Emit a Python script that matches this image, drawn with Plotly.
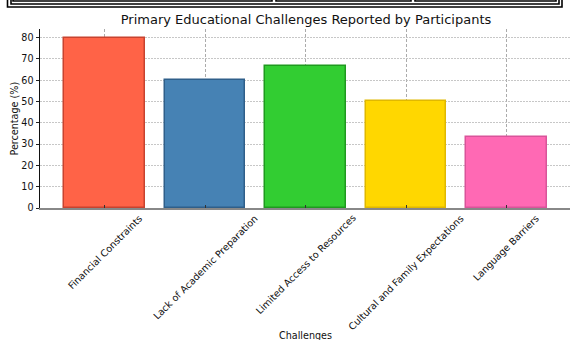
import plotly.graph_objects as go

categories = ["Financial Constraints", "Lack of Academic Preparation",
              "Limited Access to Resources", "Cultural and Family Expectations",
              "Language Barriers"]
values = [80, 60, 66.7, 50, 33.3]
colors = ["#FF6347", "#4682B4", "#32CD32", "#FFD700", "#FF69B4"]
edge_colors = ["#c8432f", "#2f5f8a", "#1f9a1f", "#e0b800", "#d9549a"]

W, H = 570, 340
L, R, T, B = 40, 570, 29, 208  # plot area in pixels

def px_x(p):
    return (p - L) / (R - L)

def px_y(p):
    return (B - p) / (B - T)

FONT = "DejaVu Sans"

fig = go.Figure()
fig.add_trace(go.Bar(
    x=list(range(len(categories))), y=values, width=0.8,
    marker=dict(color=colors, line=dict(color=edge_colors, width=1.5)),
    showlegend=False,
))

annotations = []
for i, c in enumerate(categories):
    annotations.append(dict(
        x=i, xref="x", y=px_y(210), yref="paper", text=c, textangle=-45,
        showarrow=False, xanchor="center", yanchor="top",
        font=dict(family=FONT, size=9.6, color="#111"),
    ))
annotations.append(dict(
    x=px_x(305), xref="paper", y=px_y(328), yref="paper", text="Challenges",
    showarrow=False, xanchor="center", yanchor="top",
    font=dict(family=FONT, size=9.6, color="#111"),
))
annotations.append(dict(
    x=px_x(14), xref="paper", y=0.5, yref="paper", text="Percentage (%)",
    textangle=-90, showarrow=False, xanchor="center", yanchor="middle",
    font=dict(family=FONT, size=9.6, color="#111"),
))

shapes = []
def rect(x0, x1, ybot):
    shapes.append(dict(type="rect", xref="paper", yref="paper",
                       x0=px_x(x0), x1=px_x(x1), y0=px_y(ybot), y1=px_y(-20),
                       line=dict(color="black", width=1.6), fillcolor="rgba(0,0,0,0)"))
rect(7.5, 562, 7)
rect(11, 559, 4)
rect(13, 272, 1)
rect(276, 411, 1)
rect(415, 556, 1)

fig.update_layout(
    width=W, height=H,
    margin=dict(l=L, r=W - R, t=T, b=H - B, pad=0),
    paper_bgcolor="white", plot_bgcolor="white",
    title=dict(text="Primary Educational Challenges Reported by Participants",
               x=px_x(306), xref="paper", xanchor="center",
               y=1 - 19 / H, yanchor="middle",
               font=dict(family=FONT, size=13, color="#111")),
    xaxis=dict(
        type="linear", range=[-0.642, 4.632], tickmode="array",
        tickvals=list(range(len(categories))), showticklabels=False,
        ticks="inside", ticklen=3, tickcolor="#333",
        showgrid=True, gridcolor="rgba(150,150,150,0.8)", griddash="3px,2px", gridwidth=1,
        showline=True, linecolor="#888888", linewidth=1.5,
        zeroline=False, layer="above traces",
    ),
    yaxis=dict(
        range=[0, 84.0], tickmode="array", tickvals=list(range(0, 90, 10)),
        ticks="outside", ticklen=3.5, tickcolor="#222",
        tickfont=dict(family=FONT, size=9.6, color="#111"),
        showgrid=True, gridcolor="rgba(185,185,185,0.8)", griddash="2px,1px", gridwidth=1,
        showline=True, linecolor="#111", linewidth=1,
        zeroline=False, layer="above traces",
    ),
    annotations=annotations,
    shapes=shapes,
    bargap=0,
)

fig.write_html("out.html")
